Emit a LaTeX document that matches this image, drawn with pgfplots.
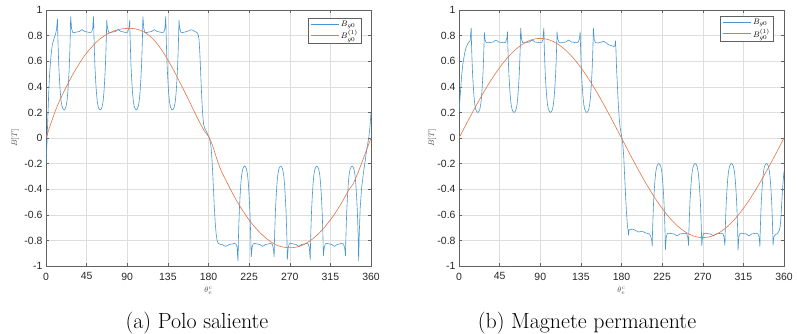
\documentclass[border=0pt]{standalone}
\usepackage{fontspec}
\usepackage{pgfplots}
\pgfplotsset{compat=1.18}
\newfontfamily\ticksf{Liberation Sans}
\definecolor{mblue}{rgb}{0.27,0.59,0.82}
\definecolor{morange}{rgb}{0.88,0.46,0.27}
\definecolor{axgray}{gray}{0.38}

\pgfplotsset{
  legend image code/.code={\draw[#1] (0bp,0bp) -- (28bp,0bp);},
  fluxax/.style={
    scale only axis, width=325bp, height=256bp,
    xmin=0, xmax=360, ymin=-1, ymax=1,
    xtick={0,45,90,135,180,225,270,315,360},
    xticklabels={0,45,90,135,180,225,270,315,360},
    ytick={-1,-0.8,-0.6,-0.4,-0.2,0,0.2,0.4,0.6,0.8,1},
    yticklabels={-1,-0.8,-0.6,-0.4,-0.2,0,0.2,0.4,0.6,0.8,1},
    tick label style={font=\ticksf\fontsize{10.5}{12}\selectfont, text=black!85},
    xticklabel style={inner ysep=0pt, yshift=-6.5bp},
    grid=major, grid style={black!13, line width=0.4bp},
    axis line style={axgray, line width=0.5bp},
    tick align=inside, major tick length=3bp,
    tick style={axgray, line width=0.4bp},
    xlabel={$\theta_e^c$}, ylabel={$B[T]$},
    label style={font=\fontsize{8}{9}\selectfont, text=black!70, inner sep=0.5bp},
    xlabel style={at={(axis description cs:0.5,-0.097)}, anchor=center},
    legend cell align=left,
    legend style={draw=axgray, line width=0.5bp, fill=white,
      font=\fontsize{8}{9}\selectfont, inner xsep=2bp, inner ysep=0.5bp,
      row sep=-1.5bp, anchor=north east},
  },
  bline/.style={mblue, line width=0.6bp},
  rline/.style={morange, line width=0.6bp, smooth},
}

\begin{document}
\begin{tikzpicture}
\path[use as bounding box] (0,0) rectangle (797bp,334bp);

% ---------------- (a) salient pole ----------------
\begin{axis}[fluxax, at={(46bp,68bp)}, anchor=south west,
  ylabel style={at={(axis description cs:-0.095,0.5)}, anchor=center},
  legend style={at={(rel axis cs:0.972,0.969)}}]
\addplot[bline] coordinates {
(0,-0.20) (1,-0.05) (2,0.15) (3,0.35) (4,0.50) (5.5,0.64) (7,0.73) (9,0.78) (10.5,0.81)
(11.7,0.85) (12.2,0.89) (12.7,0.93) (13.1,0.80) (13.6,0.68) (14.2,0.56) (15.0,0.45) (15.8,0.36)
(16.7,0.29) (17.8,0.245) (19.0,0.225) (20.0,0.22) (21.0,0.225) (22.2,0.245) (23.3,0.29)
(24.2,0.36) (25.0,0.45) (25.8,0.56) (26.4,0.68) (26.9,0.80) (27.3,0.95) (27.8,0.91) (28.3,0.855)
(29.5,0.826) (31.5,0.824) (34,0.828) (37,0.832) (38.5,0.84) (40,0.846) (41.5,0.84) (43,0.832)
(46,0.828) (48.5,0.824) (50.5,0.828)
(51.7,0.855) (52.2,0.91) (52.7,0.95) (53.1,0.80) (53.6,0.68) (54.2,0.56) (55.0,0.45) (55.8,0.36)
(56.7,0.29) (57.8,0.245) (59.0,0.225) (60.0,0.22) (61.0,0.225) (62.2,0.245) (63.3,0.29)
(64.2,0.36) (65.0,0.45) (65.8,0.56) (66.4,0.68) (66.9,0.80) (67.3,0.92) (67.8,0.88) (68.3,0.855)
(69.5,0.826) (71.5,0.824) (74,0.828) (77,0.832) (78.5,0.84) (80,0.846) (81.5,0.84) (83,0.832)
(86,0.828) (88.5,0.824) (90.5,0.828)
(91.7,0.855) (92.2,0.88) (92.7,0.92) (93.1,0.80) (93.6,0.68) (94.2,0.56) (95.0,0.45) (95.8,0.36)
(96.7,0.29) (97.8,0.245) (99.0,0.225) (100.0,0.22) (101.0,0.225) (102.2,0.245) (103.3,0.29)
(104.2,0.36) (105.0,0.45) (105.8,0.56) (106.4,0.68) (106.9,0.80) (107.3,0.95) (107.8,0.91) (108.3,0.855)
(109.5,0.826) (111.5,0.824) (114,0.828) (117,0.832) (118.5,0.84) (120,0.846) (121.5,0.84) (123,0.832)
(126,0.828) (128.5,0.824) (130.5,0.828)
(131.7,0.855) (132.2,0.91) (132.7,0.95) (133.1,0.80) (133.6,0.68) (134.2,0.56) (135.0,0.45) (135.8,0.36)
(136.7,0.29) (137.8,0.245) (139.0,0.225) (140.0,0.22) (141.0,0.225) (142.2,0.245) (143.3,0.29)
(144.2,0.36) (145.0,0.45) (145.8,0.56) (146.4,0.68) (146.9,0.80) (147.3,0.92) (147.8,0.88) (148.3,0.855)
(149.5,0.826) (151.5,0.824) (154,0.828) (157,0.835) (159,0.842) (161,0.845) (163,0.84) (165,0.832)
(167,0.825) (168.5,0.81) (169.5,0.77) (170.5,0.65) (171.5,0.48) (172.5,0.32) (173.5,0.19)
(174.5,0.11) (175.5,0.08) (177,0.06) (179,0.03) (181,0.00) (182.5,-0.05) (183.5,-0.13)
(184.5,-0.25) (185.5,-0.40) (186.5,-0.55) (187.5,-0.67) (188.5,-0.75) (189.5,-0.80) (191,-0.825)
(193,-0.83) (195,-0.832) (197,-0.84) (199,-0.846) (201,-0.84) (203,-0.832) (206,-0.828)
(208.5,-0.824) (210.5,-0.828)
(211.7,-0.855) (212.2,-0.92) (212.7,-0.96) (213.1,-0.80) (213.6,-0.68) (214.2,-0.56) (215.0,-0.45)
(215.8,-0.36) (216.7,-0.29) (217.8,-0.245) (219.0,-0.225) (220.0,-0.22) (221.0,-0.225) (222.2,-0.245)
(223.3,-0.29) (224.2,-0.36) (225.0,-0.45) (225.8,-0.56) (226.4,-0.68) (226.9,-0.80) (227.3,-0.93)
(227.8,-0.89) (228.3,-0.855)
(229.5,-0.826) (231.5,-0.824) (234,-0.828) (237,-0.832) (238.5,-0.84) (240,-0.846) (241.5,-0.84)
(243,-0.832) (246,-0.828) (248.5,-0.824) (250.5,-0.828)
(251.7,-0.855) (252.2,-0.89) (252.7,-0.93) (253.1,-0.80) (253.6,-0.68) (254.2,-0.56) (255.0,-0.45)
(255.8,-0.36) (256.7,-0.29) (257.8,-0.245) (259.0,-0.225) (260.0,-0.22) (261.0,-0.225) (262.2,-0.245)
(263.3,-0.29) (264.2,-0.36) (265.0,-0.45) (265.8,-0.56) (266.4,-0.68) (266.9,-0.80) (267.3,-0.95)
(267.8,-0.91) (268.3,-0.855)
(269.5,-0.826) (271.5,-0.824) (274,-0.828) (277,-0.832) (278.5,-0.84) (280,-0.846) (281.5,-0.84)
(283,-0.832) (286,-0.828) (288.5,-0.824) (290.5,-0.828)
(291.7,-0.855) (292.2,-0.91) (292.7,-0.95) (293.1,-0.80) (293.6,-0.68) (294.2,-0.56) (295.0,-0.45)
(295.8,-0.36) (296.7,-0.29) (297.8,-0.245) (299.0,-0.225) (300.0,-0.22) (301.0,-0.225) (302.2,-0.245)
(303.3,-0.29) (304.2,-0.36) (305.0,-0.45) (305.8,-0.56) (306.4,-0.68) (306.9,-0.80) (307.3,-0.92)
(307.8,-0.88) (308.3,-0.855)
(309.5,-0.826) (311.5,-0.824) (314,-0.828) (316.5,-0.832) (318,-0.84) (319.5,-0.846) (321,-0.84)
(322.5,-0.832) (325,-0.828) (327.5,-0.824) (329.5,-0.828)
(330.7,-0.855) (331.2,-0.88) (331.7,-0.92) (332.1,-0.80) (332.6,-0.68) (333.2,-0.56) (334.0,-0.45)
(334.8,-0.36) (335.7,-0.29) (336.8,-0.245) (338.0,-0.225) (339.0,-0.22) (340.0,-0.225) (341.2,-0.245)
(342.3,-0.29) (343.2,-0.36) (344.0,-0.45) (344.8,-0.56) (345.4,-0.68) (345.9,-0.80) (346.3,-0.96)
(347.0,-0.75) (348.0,-0.55) (349.5,-0.40) (351.5,-0.28) (353.5,-0.18) (355.5,-0.08) (357.5,0.00)
(359,0.10) (360,0.20)
};
\addlegendentry{$B_{g0}$}
\addplot[rline] coordinates {
(0,0) (5,0.105) (10,0.205) (15,0.29) (20,0.365) (25,0.435) (30,0.50) (35,0.56) (40,0.615)
(45,0.665) (50,0.705) (55,0.745) (60,0.775) (65,0.80) (70,0.82) (75,0.836) (80,0.847) (85,0.853)
(90,0.856) (95,0.856) (100,0.851) (105,0.84) (110,0.822) (115,0.797) (120,0.763) (125,0.72)
(130,0.668) (135,0.61) (140,0.548) (145,0.48) (150,0.41) (155,0.34) (160,0.268) (165,0.195)
(170,0.125) (175,0.06) (181,0) (185,-0.07) (190,-0.18) (195,-0.27) (200,-0.34) (205,-0.41)
(210,-0.475) (215,-0.535) (220,-0.59) (225,-0.64) (230,-0.685) (235,-0.725) (240,-0.76)
(245,-0.79) (250,-0.815) (255,-0.835) (260,-0.848) (265,-0.855) (270,-0.857) (275,-0.855)
(280,-0.848) (285,-0.835) (290,-0.815) (295,-0.79) (300,-0.76) (305,-0.725) (310,-0.685)
(315,-0.64) (320,-0.59) (325,-0.535) (330,-0.475) (335,-0.41) (340,-0.36) (345,-0.28)
(350,-0.19) (355,-0.095) (360,0)
};
\addlegendentry{$B_{g0}^{(1)}$}
\end{axis}

% ---------------- (b) permanent magnet ----------------
\begin{axis}[fluxax, at={(459bp,68bp)}, anchor=south west,
  ylabel style={at={(axis description cs:-0.083,0.5)}, anchor=center},
  legend style={at={(rel axis cs:0.969,0.975)}}]
\addplot[bline] coordinates {
(0,0.20) (1,0.30) (2,0.40) (3,0.49) (4,0.56) (5,0.61) (6.5,0.67) (8,0.71) (10,0.74) (12,0.757)
(12.5,0.77) (13.0,0.82) (13.5,0.86) (13.9,0.723) (14.4,0.615) (15.0,0.507) (15.8,0.407) (16.6,0.326)
(17.5,0.263) (18.6,0.223) (19.8,0.205) (20.8,0.20) (21.8,0.205) (23.0,0.223) (24.1,0.263)
(25.0,0.326) (25.8,0.407) (26.6,0.507) (27.2,0.615) (27.7,0.723) (28.1,0.825) (28.6,0.785) (29.1,0.76)
(30.3,0.746) (32.3,0.744) (34.8,0.747) (37.8,0.75) (39.4,0.758) (40.9,0.765) (42.4,0.758) (44,0.75)
(47,0.747) (49.5,0.744) (51.5,0.748)
(52.7,0.77) (53.2,0.79) (53.7,0.83) (54.1,0.723) (54.6,0.615) (55.2,0.507) (56.0,0.407) (56.8,0.326)
(57.7,0.263) (58.8,0.223) (60,0.205) (61,0.20) (62,0.205) (63.2,0.223) (64.3,0.263) (65.2,0.326)
(66.0,0.407) (66.8,0.507) (67.4,0.615) (67.9,0.723) (68.3,0.86) (68.8,0.82) (69.3,0.77)
(70.5,0.746) (72.5,0.744) (75,0.747) (78,0.75) (79.6,0.758) (81.1,0.765) (82.6,0.758) (84.2,0.75)
(87.2,0.747) (89.7,0.744) (91.8,0.748)
(93.0,0.77) (93.5,0.82) (94.0,0.86) (94.4,0.723) (94.9,0.615) (95.5,0.507) (96.3,0.407) (97.1,0.326)
(98.0,0.263) (99.1,0.223) (100.3,0.205) (101.3,0.20) (102.3,0.205) (103.5,0.223) (104.6,0.263)
(105.5,0.326) (106.3,0.407) (107.1,0.507) (107.7,0.615) (108.2,0.723) (108.6,0.83) (109.1,0.79) (109.6,0.77)
(110.8,0.746) (112.8,0.744) (115.3,0.747) (118.3,0.75) (119.9,0.758) (121.4,0.765) (122.9,0.758)
(124.5,0.75) (127.5,0.747) (130,0.744) (132,0.748)
(133.2,0.77) (133.7,0.79) (134.2,0.83) (134.6,0.723) (135.1,0.615) (135.7,0.507) (136.5,0.407)
(137.3,0.326) (138.2,0.263) (139.3,0.223) (140.5,0.205) (141.5,0.20) (142.5,0.205) (143.7,0.223)
(144.8,0.263) (145.7,0.326) (146.5,0.407) (147.3,0.507) (147.9,0.615) (148.4,0.723) (148.8,0.86)
(149.3,0.82) (149.8,0.77)
(151,0.745) (153,0.742) (155.5,0.745) (158,0.75) (160,0.755) (162,0.748) (164.5,0.735) (167,0.725)
(169.5,0.72) (171.5,0.715) (172.6,0.72) (173.3,0.76) (173.8,0.70) (174.5,0.55) (175.5,0.40)
(176.5,0.26) (177.5,0.15) (178.5,0.08) (180,0.02) (181.5,-0.05) (182.5,-0.15) (183.5,-0.30)
(184.5,-0.45) (185.5,-0.58) (186.5,-0.68) (187.3,-0.72) (187.8,-0.76) (188.3,-0.72) (189.5,-0.715)
(192,-0.712) (195,-0.72) (197,-0.728) (199,-0.735) (201,-0.73) (203.5,-0.73) (206,-0.74)
(208.5,-0.745) (211,-0.75) (212.5,-0.77) (213.5,-0.80) (214.0,-0.843)
(214.4,-0.723) (214.9,-0.615) (215.5,-0.507) (216.3,-0.407) (217.1,-0.326) (218.0,-0.263)
(219.1,-0.223) (220.3,-0.205) (221.3,-0.20) (222.3,-0.205) (223.5,-0.223) (224.6,-0.263)
(225.5,-0.326) (226.3,-0.407) (227.1,-0.507) (227.7,-0.615) (228.2,-0.723) (228.6,-0.876)
(229.1,-0.82) (229.6,-0.77)
(230.8,-0.746) (232.8,-0.744) (235.3,-0.747) (238.3,-0.75) (239.9,-0.758) (241.4,-0.765)
(242.9,-0.758) (244.5,-0.75) (247.5,-0.747) (250,-0.744) (252.1,-0.748)
(253.3,-0.77) (253.8,-0.80) (254.3,-0.84) (254.7,-0.723) (255.2,-0.615) (255.8,-0.507) (256.6,-0.407)
(257.4,-0.326) (258.3,-0.263) (259.4,-0.223) (260.6,-0.205) (261.6,-0.20) (262.6,-0.205)
(263.8,-0.223) (264.9,-0.263) (265.8,-0.326) (266.6,-0.407) (267.4,-0.507) (268.0,-0.615)
(268.5,-0.723) (268.9,-0.84) (269.4,-0.80) (269.9,-0.77)
(271.1,-0.746) (273.1,-0.744) (275.6,-0.747) (278.6,-0.75) (280.2,-0.758) (281.7,-0.765)
(283.2,-0.758) (284.8,-0.75) (287.8,-0.747) (290.3,-0.744) (292.3,-0.748)
(293.5,-0.77) (294.0,-0.80) (294.5,-0.84) (294.9,-0.723) (295.4,-0.615) (296.0,-0.507) (296.8,-0.407)
(297.6,-0.326) (298.5,-0.263) (299.6,-0.223) (300.8,-0.205) (301.8,-0.20) (302.8,-0.205)
(304.0,-0.223) (305.1,-0.263) (306.0,-0.326) (306.8,-0.407) (307.6,-0.507) (308.2,-0.615)
(308.7,-0.723) (309.1,-0.876) (309.6,-0.82) (310.1,-0.77)
(311.3,-0.746) (313.3,-0.744) (315.8,-0.747) (318.5,-0.75) (319.8,-0.758) (321.2,-0.765)
(322.6,-0.758) (324,-0.75) (326.8,-0.747) (329,-0.744) (331.1,-0.748)
(332.3,-0.77) (332.8,-0.80) (333.3,-0.85) (333.7,-0.723) (334.2,-0.615) (334.8,-0.507) (335.6,-0.407)
(336.4,-0.326) (337.3,-0.263) (338.4,-0.223) (339.6,-0.205) (340.6,-0.20) (341.6,-0.205)
(342.8,-0.223) (343.9,-0.263) (344.8,-0.326) (345.6,-0.407) (346.4,-0.507) (347.0,-0.615)
(347.5,-0.723) (347.9,-0.84) (348.4,-0.79) (349,-0.77) (350.5,-0.755) (352,-0.75) (353.5,-0.74)
(354.8,-0.72) (355.8,-0.69) (356.6,-0.62) (357.4,-0.52) (358.2,-0.42) (359,-0.34) (360,-0.26)
};
\addlegendentry{$B_{g0}$}
\addplot[rline] coordinates {
(0,0) (5,0.0678) (10,0.1351) (15,0.2014) (20,0.2661) (25,0.3288) (30,0.389) (35,0.4463)
(40,0.5001) (45,0.5501) (50,0.596) (55,0.6373) (60,0.6737) (65,0.7051) (70,0.7311) (75,0.7515)
(80,0.7662) (85,0.775) (90,0.778) (95,0.775) (100,0.7662) (105,0.7515) (110,0.7311) (115,0.7051)
(120,0.6737) (125,0.6373) (130,0.596) (135,0.5501) (140,0.5001) (145,0.4463) (150,0.389)
(155,0.3288) (160,0.2661) (165,0.2014) (170,0.1351) (175,0.0678) (180,0)
(185,-0.0678) (190,-0.1351) (195,-0.2014) (200,-0.2661) (205,-0.3288) (210,-0.389) (215,-0.4463)
(220,-0.5001) (225,-0.5501) (230,-0.596) (235,-0.6373) (240,-0.6737) (245,-0.7051) (250,-0.7311)
(255,-0.7515) (260,-0.7662) (265,-0.775) (270,-0.778) (275,-0.775) (280,-0.7662) (285,-0.7515)
(290,-0.7311) (295,-0.7051) (300,-0.6737) (305,-0.6373) (310,-0.596) (315,-0.5501) (320,-0.5001)
(325,-0.4463) (330,-0.389) (335,-0.3288) (340,-0.2661) (345,-0.2014) (350,-0.1351) (355,-0.0678)
(360,0)
};
\addlegendentry{$B_{g0}^{(1)}$}
\end{axis}

% sub-captions
\node[font=\fontsize{22}{26}\selectfont, anchor=base] at (197bp,6bp) {(a) Polo saliente};
\node[font=\fontsize{22}{26}\selectfont, anchor=base] at (587bp,6bp) {(b) Magnete permanente};
\end{tikzpicture}
\end{document}
